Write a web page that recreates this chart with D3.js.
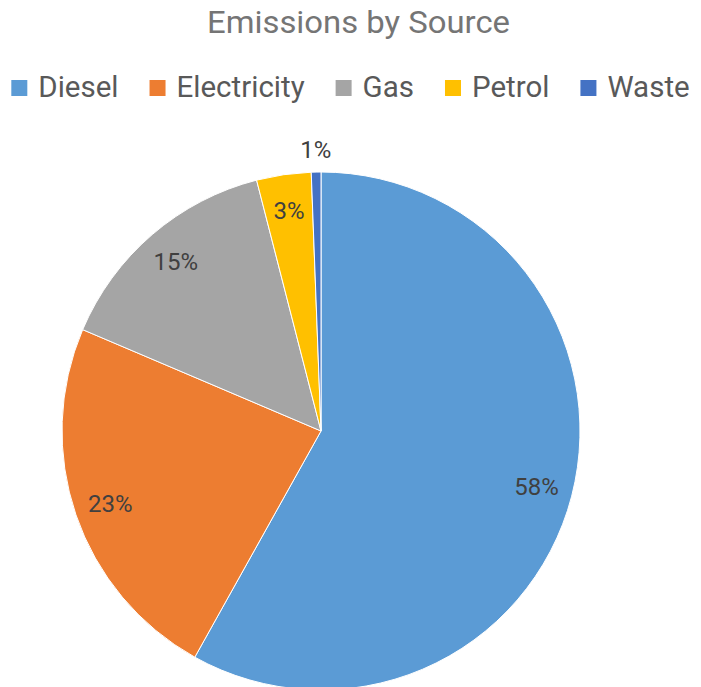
<!DOCTYPE html>
<html>
<head>
<meta charset="utf-8">
<script src="https://cdn.jsdelivr.net/npm/d3@7"></script>
<style>
  html, body { margin: 0; padding: 0; background: #fff; }
  svg { display: block; font-family: Roboto, "Open Sans", sans-serif; }
</style>
</head>
<body>
<svg id="chart" width="701" height="687"></svg>
<script>
// Emissions share by source (percent of total)
const categories = ["Diesel", "Electricity", "Gas", "Petrol", "Waste"];
const values = [58.1, 23.3, 14.6, 3.4, 0.6];
const colors = ["#5B9BD5", "#ED7D31", "#A5A5A5", "#FFC000", "#4472C4"];
const title = "Emissions by Source";

const W = 701, H = 687;
const cx = 321, cy = 431, R = 259;

const svg = d3.select("#chart");
const data = categories.map((c, i) => ({ name: c, value: values[i], color: colors[i] }));
const total = d3.sum(values);

// Title
svg.append("text")
  .attr("x", 358.5).attr("y", 33)
  .attr("text-anchor", "middle")
  .attr("fill", "#757575")
  .attr("font-size", 31)
  .attr("textLength", 303)
  .attr("lengthAdjust", "spacingAndGlyphs")
  .text(title);

// Legend, laid out left to right and centred
const legend = svg.append("g");
const items = legend.selectAll("g.item").data(data).join("g").attr("class", "item");
items.append("rect")
  .attr("width", 16).attr("height", 16)
  .attr("y", 80)
  .attr("fill", d => d.color);
items.append("text")
  .attr("x", 27).attr("y", 97)
  .attr("fill", "#595959")
  .attr("font-size", 29.5)
  .text(d => d.name);
let xPos = 0;
items.each(function () {
  const g = d3.select(this);
  g.attr("transform", `translate(${xPos},0)`);
  const tw = g.select("text").node().getComputedTextLength();
  xPos += 27 + tw + 31;
});
const legendWidth = xPos - 31;
legend.attr("transform", `translate(${(W - legendWidth) / 2},0)`);

// Pie, starting at 12 o'clock and running clockwise
const pie = d3.pie().sort(null).value(d => d.value);
const arcs = pie(data);
const arc = d3.arc().innerRadius(0).outerRadius(R);
const g = svg.append("g").attr("transform", `translate(${cx},${cy})`);
g.selectAll("path").data(arcs).join("path")
  .attr("d", arc)
  .attr("fill", d => d.data.color)
  .attr("stroke", "#fff")
  .attr("stroke-width", 1);

// Percentage labels: inside for large slices, just outside for the smallest
const inner = d3.arc().innerRadius(R * 0.86).outerRadius(R * 0.86);
const outer = d3.arc().innerRadius(R + 22).outerRadius(R + 22);
g.selectAll("text.lbl").data(arcs).join("text")
  .attr("class", "lbl")
  .attr("transform", d => {
    const share = d.data.value / total;
    const p = share < 0.02 ? outer.centroid(d) : inner.centroid(d);
    return `translate(${p[0]},${p[1]})`;
  })
  .attr("text-anchor", "middle")
  .attr("dy", "0.35em")
  .attr("fill", "#404040")
  .attr("font-size", 24)
  .text(d => Math.round(d.data.value / total * 100) + "%");
</script>
</body>
</html>
